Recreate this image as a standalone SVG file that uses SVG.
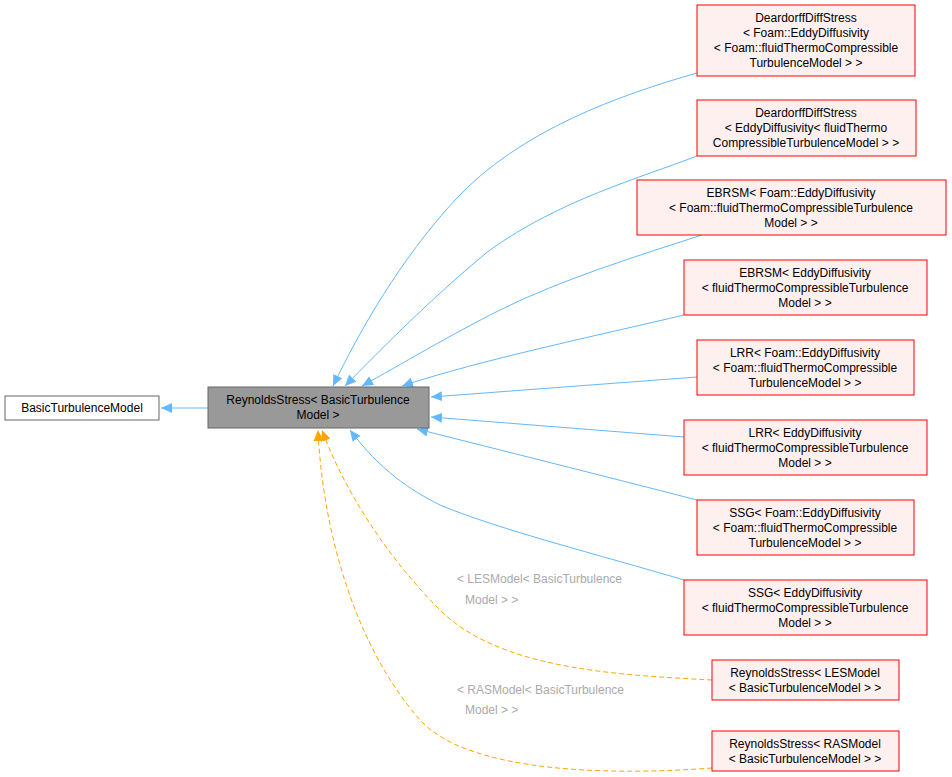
<svg xmlns="http://www.w3.org/2000/svg" width="952" height="777" viewBox="0 0 952 777">
<style>
text{font-family:"Liberation Sans",Arial,sans-serif;font-size:12px;fill:#000}
.n{fill:#fff0f0;stroke:#ff0000;stroke-width:1}
.e{fill:none;stroke:#63b8ff;stroke-width:1}
.d{fill:none;stroke:#ffa500;stroke-width:1;stroke-dasharray:5,3}
.l{fill:#aaaaaa}
</style>
<defs>
<marker id="ab" markerWidth="12" markerHeight="10" refX="11" refY="5" orient="auto" markerUnits="userSpaceOnUse"><path d="M11,5 L0,0 L0,10 Z" fill="#63b8ff"/></marker>
<marker id="ao" markerWidth="12" markerHeight="10" refX="11" refY="5" orient="auto" markerUnits="userSpaceOnUse"><path d="M11,5 L0,0 L0,10 Z" fill="#ffa500"/></marker>
</defs>
<rect width="952" height="777" fill="#fff"/>
<g id="edges">
<path class="e" marker-end="url(#ab)" d="M208,408 L161,408"/>
<path class="e" marker-end="url(#ab)" d="M697,73 C620,95 520,130 455,200 C400,260 360,330 333,386"/>
<path class="e" marker-end="url(#ab)" d="M697,156 C640,178 560,200 490,250 C440,290 380,350 345,386"/>
<path class="e" marker-end="url(#ab)" d="M702,235 C640,255 560,280 500,310 C450,335 400,365 362,386"/>
<path class="e" marker-end="url(#ab)" d="M684,315 C600,335 480,360 402,386"/>
<path class="e" marker-end="url(#ab)" d="M697,377 L431,397"/>
<path class="e" marker-end="url(#ab)" d="M684,437 L431,417"/>
<path class="e" marker-end="url(#ab)" d="M697,500 C600,475 500,450 417,429"/>
<path class="e" marker-end="url(#ab)" d="M684,580 C600,555 500,530 440,505 C410,490 380,470 350,430"/>
<path class="d" marker-end="url(#ao)" d="M712,680 C620,675 500,670 440,610 C380,550 340,480 322,430"/>
<path class="d" marker-end="url(#ao)" d="M712,768 C620,775 470,775 420,720 C350,640 322,520 318,430"/>
<text class="l" x="457" y="583">&lt; LESModel&lt; BasicTurbulence</text>
<text class="l" x="465" y="604">Model &gt; &gt;</text>
<text class="l" x="457" y="694">&lt; RASModel&lt; BasicTurbulence</text>
<text class="l" x="465" y="714">Model &gt; &gt;</text>
</g>
<g id="basic"><rect x="5" y="396" width="154" height="24" fill="#fff" stroke="#666"/><text x="82" y="412" text-anchor="middle">BasicTurbulenceModel</text></g>
<g id="rs"><rect x="208" y="387" width="221" height="41" fill="#999" stroke="#666"/><text x="318" y="404" text-anchor="middle">ReynoldsStress&lt; BasicTurbulence</text><text x="318" y="419" text-anchor="middle">Model &gt;</text></g>
<g id="n1"><rect class="n" x="697" y="5" width="218" height="71"/><text x="806" y="22" text-anchor="middle">DeardorffDiffStress</text><text x="806" y="37" text-anchor="middle">&lt; Foam::EddyDiffusivity</text><text x="806" y="52" text-anchor="middle">&lt; Foam::fluidThermoCompressible</text><text x="806" y="67" text-anchor="middle">TurbulenceModel &gt; &gt;</text></g>
<g id="n2"><rect class="n" x="697" y="100" width="219" height="56"/><text x="806" y="117" text-anchor="middle">DeardorffDiffStress</text><text x="806" y="132" text-anchor="middle">&lt; EddyDiffusivity&lt; fluidThermo</text><text x="806" y="147" text-anchor="middle">CompressibleTurbulenceModel &gt; &gt;</text></g>
<g id="n3"><rect class="n" x="637" y="180" width="309" height="55"/><text x="791" y="197" text-anchor="middle">EBRSM&lt; Foam::EddyDiffusivity</text><text x="791" y="212" text-anchor="middle">&lt; Foam::fluidThermoCompressibleTurbulence</text><text x="791" y="227" text-anchor="middle">Model &gt; &gt;</text></g>
<g id="n4"><rect class="n" x="684" y="260" width="243" height="55"/><text x="805" y="277" text-anchor="middle">EBRSM&lt; EddyDiffusivity</text><text x="805" y="292" text-anchor="middle">&lt; fluidThermoCompressibleTurbulence</text><text x="805" y="307" text-anchor="middle">Model &gt; &gt;</text></g>
<g id="n5"><rect class="n" x="697" y="340" width="217" height="55"/><text x="805" y="357" text-anchor="middle">LRR&lt; Foam::EddyDiffusivity</text><text x="805" y="372" text-anchor="middle">&lt; Foam::fluidThermoCompressible</text><text x="805" y="387" text-anchor="middle">TurbulenceModel &gt; &gt;</text></g>
<g id="n6"><rect class="n" x="684" y="420" width="243" height="55"/><text x="805" y="437" text-anchor="middle">LRR&lt; EddyDiffusivity</text><text x="805" y="452" text-anchor="middle">&lt; fluidThermoCompressibleTurbulence</text><text x="805" y="467" text-anchor="middle">Model &gt; &gt;</text></g>
<g id="n7"><rect class="n" x="697" y="500" width="217" height="55"/><text x="805" y="517" text-anchor="middle">SSG&lt; Foam::EddyDiffusivity</text><text x="805" y="532" text-anchor="middle">&lt; Foam::fluidThermoCompressible</text><text x="805" y="547" text-anchor="middle">TurbulenceModel &gt; &gt;</text></g>
<g id="n8"><rect class="n" x="684" y="580" width="243" height="55"/><text x="805" y="597" text-anchor="middle">SSG&lt; EddyDiffusivity</text><text x="805" y="612" text-anchor="middle">&lt; fluidThermoCompressibleTurbulence</text><text x="805" y="627" text-anchor="middle">Model &gt; &gt;</text></g>
<g id="n9"><rect class="n" x="712" y="660" width="187" height="40"/><text x="805" y="677" text-anchor="middle">ReynoldsStress&lt; LESModel</text><text x="805" y="692" text-anchor="middle">&lt; BasicTurbulenceModel &gt; &gt;</text></g>
<g id="n10"><rect class="n" x="712" y="731" width="187" height="40"/><text x="805" y="748" text-anchor="middle">ReynoldsStress&lt; RASModel</text><text x="805" y="763" text-anchor="middle">&lt; BasicTurbulenceModel &gt; &gt;</text></g>
</svg>
